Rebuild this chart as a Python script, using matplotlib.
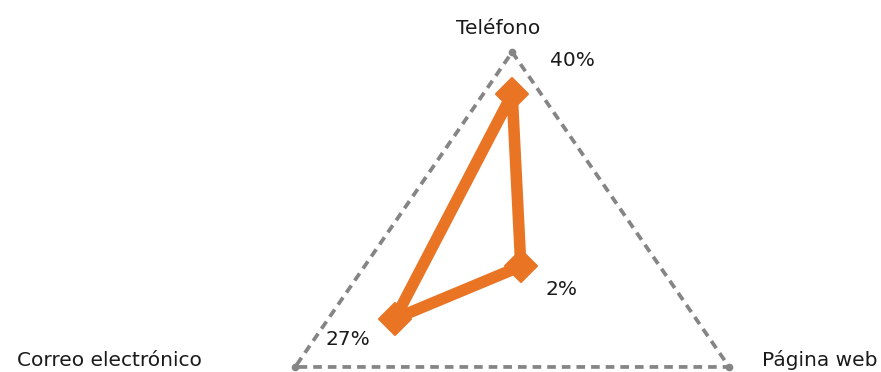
import numpy as np
import matplotlib
matplotlib.use('Agg')
import matplotlib.pyplot as plt
from matplotlib.markers import MarkerStyle

# Datos del gráfico radar
categorias = ['Teléfono', 'Página web', 'Correo electrónico']
valores = [40, 2, 27]
etiquetas = ['40%', '2%', '27%']
max_escala = 50

NARANJA = '#E87424'
GRIS = '#858585'
TEXTO = '#1A1A1A'

angulos = np.deg2rad([90, -30, 210])

fig = plt.figure(figsize=(8.81, 3.72), dpi=100)
ax = fig.add_axes([0, 0, 1, 1])
ax.set_xlim(-102.2, 73.6)
ax.set_ylim(-26.2, 62.4)
ax.axis('off')

# Cuadrícula exterior (triángulo)
gx = max_escala * np.cos(angulos)
gy = max_escala * np.sin(angulos)
ax.plot(np.append(gx, gx[0]), np.append(gy, gy[0]), color=GRIS, lw=2.7,
        dashes=(2.3, 1.6), dash_capstyle='butt', zorder=1)
ax.plot(gx, gy, 'o', color=GRIS, ms=4.5, zorder=1)

# Serie
v = np.array(valores, dtype=float)
px = v * np.cos(angulos)
py = v * np.sin(angulos)
ax.plot(np.append(px, px[0]), np.append(py, py[0]), color=NARANJA, lw=8.3,
        solid_joinstyle='round', zorder=3)
rombo = MarkerStyle('D', joinstyle='round')
ax.plot(px, py, ls='none', marker=rombo, color=NARANJA, ms=16.5, mew=1.5,
        mec=NARANJA, zorder=4)

# Etiquetas de datos
fs = 14.5
desplaz = [(27, 24), (18, -17), (-50, -15)]
for x, y, txt, (dx, dy) in zip(px, py, etiquetas, desplaz):
    ax.annotate(txt, (x, y), xytext=(dx, dy), textcoords='offset points',
                ha='left', va='center', fontsize=fs, color=TEXTO)

# Etiquetas de categorías
ax.annotate(categorias[0], (gx[0], gy[0]), xytext=(-10, 17), textcoords='offset points',
            ha='center', va='center', fontsize=fs, color=TEXTO)
ax.annotate(categorias[1], (gx[1], gy[1]), xytext=(24, 5), textcoords='offset points',
            ha='left', va='center', fontsize=fs, color=TEXTO)
ax.annotate(categorias[2], (gx[2], gy[2]), xytext=(-67, 5), textcoords='offset points',
            ha='right', va='center', fontsize=fs, color=TEXTO)

fig.savefig('out.png', dpi=100)
